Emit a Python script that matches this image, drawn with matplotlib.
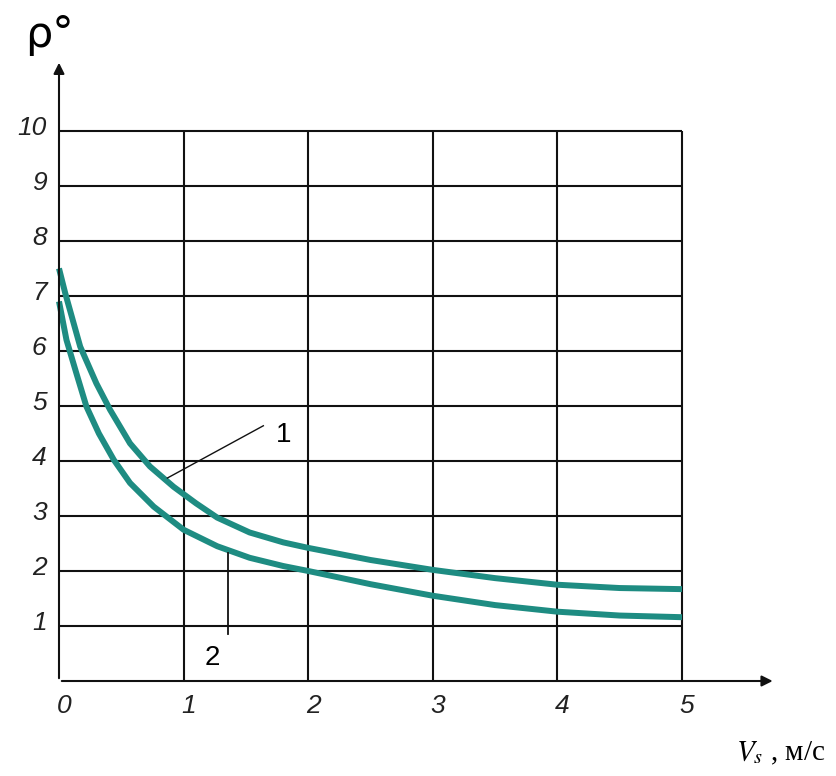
import matplotlib.pyplot as plt

plt.rcParams['mathtext.fontset'] = 'stix'

# Данные кривых
v1 = [0, 0.05, 0.17, 0.3, 0.41, 0.57, 0.73, 0.92, 1.1, 1.27, 1.53, 1.8, 2.0, 2.5, 3.0, 3.5, 4.0, 4.5, 5.0]
rho1 = [7.5, 7.05, 6.08, 5.41, 4.93, 4.32, 3.9, 3.53, 3.23, 2.97, 2.7, 2.52, 2.42, 2.2, 2.02, 1.87, 1.75, 1.69, 1.67]

v2 = [0, 0.06, 0.14, 0.22, 0.32, 0.44, 0.57, 0.76, 1.0, 1.27, 1.53, 1.8, 2.0, 2.5, 3.0, 3.5, 4.0, 4.5, 5.0]
rho2 = [6.9, 6.2, 5.59, 4.99, 4.5, 4.02, 3.6, 3.17, 2.75, 2.45, 2.24, 2.09, 2.0, 1.76, 1.55, 1.38, 1.26, 1.19, 1.16]

x_ticks = [0, 1, 2, 3, 4, 5]
y_ticks = [1, 2, 3, 4, 5, 6, 7, 8, 9, 10]

curve_color = '#1e8c82'

fig = plt.figure(figsize=(8.36, 7.76), dpi=100)
ax = fig.add_axes([0, 0, 1, 1])
ax.set_xlim(-0.4735, 6.236)
ax.set_ylim(-1.727, 12.38)
ax.axis('off')

# Сетка
ax.hlines(y_ticks, 0, 5, colors='#111111', lw=1.5)
ax.vlines(x_ticks[1:], 0, 10, colors='#111111', lw=1.5)

# Оси со стрелками
ax.annotate('', xy=(0, 11.29), xytext=(0, 0),
            arrowprops=dict(arrowstyle='-|>', lw=1.5, color='#111111', mutation_scale=16))
ax.annotate('', xy=(5.75, 0), xytext=(0, 0),
            arrowprops=dict(arrowstyle='-|>', lw=1.5, color='#111111', mutation_scale=16))

# Подписи делений
for t in y_ticks:
    ax.text(-0.1, t + 0.05, str(t), ha='right', va='center', fontsize=19,
            fontstyle='italic', family='Liberation Sans', color='#222222')
for t in x_ticks:
    ax.text(t + 0.04, -0.45, str(t), ha='center', va='center', fontsize=19,
            fontstyle='italic', family='Liberation Sans', color='#222222')

# Кривые
ax.plot(v1, rho1, color=curve_color, lw=4.3, solid_capstyle='butt', solid_joinstyle='round')
ax.plot(v2, rho2, color=curve_color, lw=4.3, solid_capstyle='butt', solid_joinstyle='round')

# Выноски
ax.plot([0.87, 1.64], [3.69, 4.64], color='#111111', lw=1.0)
ax.text(1.80, 4.47, '1', ha='center', va='center', fontsize=20, family='Liberation Sans')
ax.plot([1.36, 1.36], [2.32, 0.86], color='#111111', lw=1.3)
ax.text(1.23, 0.42, '2', ha='center', va='center', fontsize=20, family='Liberation Sans')

# Названия осей
ax.text(-0.08, 11.75, 'ρ°', ha='center', va='center', fontsize=31, family='DejaVu Sans')
ax.text(5.43, -1.44, '$V_s$ , м/с', ha='left', va='baseline', fontsize=21,
        family='Liberation Serif')

fig.savefig('out.png', dpi=100)
